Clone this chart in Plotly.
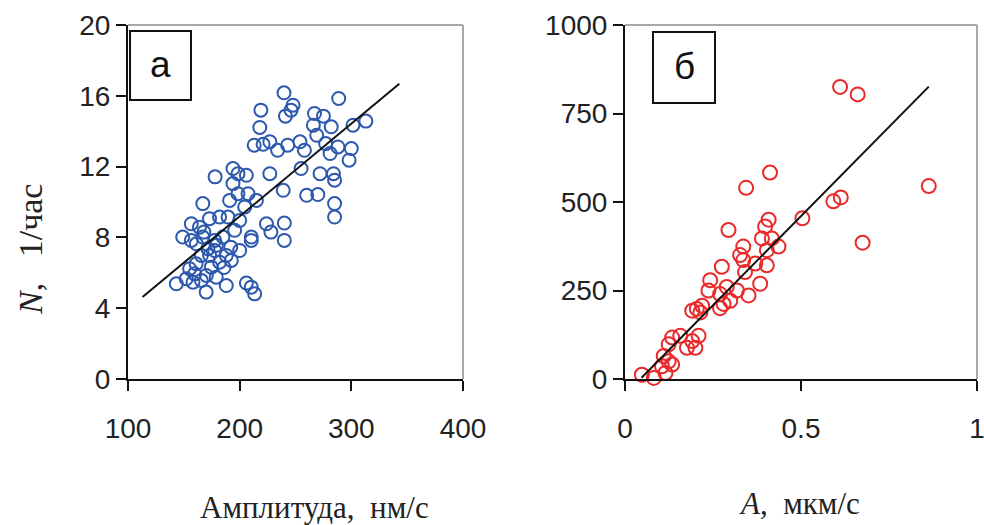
import plotly.graph_objects as go

# ---------------- data ----------------
# Panel "а": amplitude (нм/с) vs N (1/час)
amp_nm = [239.7, 247.8, 246, 241, 288.7, 219, 218, 267, 275, 266,
          269, 282, 301.5, 313, 213, 221, 227, 234, 243, 254,
          258, 277, 281, 288, 300, 298, 255, 272, 284, 285,
          227, 239, 260, 270, 285, 285, 224, 240, 240, 228,
          178, 194, 198.5, 206, 194, 198.5, 191, 207.5, 215, 204.5,
          167, 173, 182, 189.6, 200, 156.7, 164, 149, 156.7, 167,
          177.6, 185, 195.5, 210.4, 210.4, 200, 165.7, 177.6, 182, 188,
          192.5, 143.3, 152.2, 159.7, 165.7, 170, 179, 188, 206, 210.4,
          213.4, 174.6, 161, 155.2, 179.1, 173.1, 158.2, 170.1,
          161.2, 171.6, 186.0, 168.0, 192.0]
n_hour = [16.17, 15.47, 15.19, 14.85, 15.85, 15.19, 14.21, 15.0, 14.85, 14.34,
          13.77, 14.25, 14.34, 14.57, 13.21, 13.26, 13.4, 12.92, 13.21, 13.4,
          12.92, 13.3, 12.74, 13.11, 13.02, 12.36, 11.89, 11.6, 11.6, 11.23,
          11.6, 10.66, 10.38, 10.42, 9.91, 9.15, 8.77, 8.81, 7.83, 8.30,
          11.42, 11.89, 11.6, 11.51, 11.04, 10.47, 10.09, 10.47, 10.09, 9.72,
          9.91, 9.06, 9.15, 9.15, 8.96, 8.77, 8.58, 8.02, 7.83, 8.02,
          7.83, 8.02, 8.40, 8.02, 7.83, 7.26, 6.98, 7.26, 6.60, 6.98,
          6.70, 5.38, 5.66, 5.94, 5.57, 4.91, 5.75, 5.28, 5.42, 5.19,
          4.81, 6.32, 6.51, 6.23, 7.55, 6.98, 5.47, 5.85,
          7.64, 7.36, 6.30, 8.30, 7.45]
fit_a_x = [113, 343]
fit_a_slope, fit_a_icpt = 0.0524, -1.29

# Panel "б": A (мкм/с) vs N
amp_um = [0.611, 0.661, 0.412, 0.344, 0.863, 0.592, 0.613, 0.675, 0.504, 0.294,
          0.408, 0.398, 0.389, 0.417, 0.436, 0.403, 0.336, 0.327, 0.336, 0.370,
          0.403, 0.341, 0.275, 0.242, 0.237, 0.289, 0.270, 0.318, 0.384, 0.351,
          0.299, 0.280, 0.204, 0.191, 0.219, 0.134, 0.157, 0.124, 0.191, 0.209,
          0.176, 0.200, 0.110, 0.124, 0.105, 0.115, 0.134, 0.048, 0.039, 0.063,
          0.082, 0.110, 0.214, 0.270]
n_b = [825, 804, 583, 540, 545, 502, 513, 385, 454, 421,
       450, 431, 397, 397, 374, 364, 374, 350, 336, 326,
       321, 302, 317, 279, 250, 260, 240, 250, 269, 236,
       221, 212, 198, 193, 207, 117, 122, 98, 107, 122,
       88, 88, 65, 50, 36, 17, 41, 12, -2, -7,
       3, -2, 188, 200]
fit_b_x = [0.047, 0.863]
fit_b_slope, fit_b_icpt = 1008, -44

xa_ticks = [100, 200, 300, 400]
ya_ticks = [0, 4, 8, 12, 16, 20]
xb_ticks = [0, 0.5, 1]
xb_ticktext = ["0", "0.5", "1"]
yb_ticks = [0, 250, 500, 750, 1000]

BLUE = "#2c58ad"
RED = "#ea2a2a"
# the page's body margin is removed (post_script), so the figure fills the window
OFF = 0
W, H = 984, 525


def px(x):
    return (x - OFF) / W


def py(y):
    return 1 - (y - OFF) / H


fig = go.Figure()
fig.add_trace(go.Scatter(x=amp_nm, y=n_hour, mode="markers", xaxis="x", yaxis="y",
                         marker=dict(symbol="circle-open", size=13, color=BLUE,
                                     line=dict(width=2, color=BLUE)),
                         showlegend=False, cliponaxis=False))
fig.add_trace(go.Scatter(x=fit_a_x, y=[fit_a_icpt + fit_a_slope * v for v in fit_a_x],
                         mode="lines", xaxis="x", yaxis="y",
                         line=dict(color="#111", width=2), showlegend=False))
fig.add_trace(go.Scatter(x=amp_um, y=n_b, mode="markers", xaxis="x2", yaxis="y2",
                         marker=dict(symbol="circle-open", size=14, color=RED,
                                     line=dict(width=2, color=RED)),
                         showlegend=False, cliponaxis=False))
fig.add_trace(go.Scatter(x=fit_b_x, y=[fit_b_icpt + fit_b_slope * v for v in fit_b_x],
                         mode="lines", xaxis="x2", yaxis="y2",
                         line=dict(color="#111", width=2), showlegend=False))

tickfont = dict(family="Liberation Sans, Arial, sans-serif", size=28, color="#222")
common = dict(showline=True, linecolor="#111", linewidth=2, ticks="outside",
              ticklen=10, tickwidth=2, tickcolor="#111", showgrid=False,
              zeroline=False, tickfont=tickfont, automargin=False,
              ticklabeloverflow="allow")
inner = dict(ticks="inside", ticklen=4, tickwidth=2, tickcolor="#111",
             showticklabels=False, showline=False, showgrid=False,
             zeroline=False, automargin=False)

yd = [py(379), py(25)]
fig.update_layout(
    width=W, height=H, margin=dict(l=0, r=0, t=0, b=0),
    paper_bgcolor="white", plot_bgcolor="white",
    xaxis=dict(domain=[px(128), px(463)], range=[100, 400], tickvals=xa_ticks,
               anchor="y", ticklabelstandoff=13, **common),
    yaxis=dict(domain=yd, range=[0, 20], tickvals=ya_ticks, anchor="x",
               ticklabelstandoff=0, **common),
    xaxis2=dict(domain=[px(625), px(977)], range=[0, 1], tickvals=xb_ticks,
                ticktext=xb_ticktext, anchor="y2", ticklabelstandoff=13, **common),
    yaxis2=dict(domain=yd, range=[0, 1000], tickvals=yb_ticks, anchor="x2",
                ticklabelstandoff=0, **common),
    # short inner tick stubs so the ticks cross the axis lines
    xaxis3=dict(overlaying="x", anchor="y", range=[100, 400], tickvals=xa_ticks,
                side="bottom", **inner),
    yaxis3=dict(overlaying="y", anchor="x", range=[0, 20], tickvals=ya_ticks,
                side="left", **inner),
    xaxis4=dict(overlaying="x2", anchor="y2", range=[0, 1], tickvals=xb_ticks,
                side="bottom", **inner),
    yaxis4=dict(overlaying="y2", anchor="x2", range=[0, 1000], tickvals=yb_ticks,
                side="left", **inner),
)

shapes = []
for xr, yr in (("x domain", "y domain"), ("x2 domain", "y2 domain")):
    shapes.append(dict(type="line", xref=xr, yref=yr, x0=0, x1=1, y0=1, y1=1,
                       line=dict(color="#a8a8a8", width=2), layer="below"))
    shapes.append(dict(type="line", xref=xr, yref=yr, x0=1, x1=1, y0=0, y1=1,
                       line=dict(color="#a8a8a8", width=2), layer="below"))
# label boxes
shapes.append(dict(type="rect", xref="x domain", yref="y domain",
                   x0=0.006, x1=0.188, y0=0.788, y1=0.983,
                   line=dict(color="#111", width=2), fillcolor="white"))
shapes.append(dict(type="rect", xref="x2 domain", yref="y2 domain",
                   x0=0.0795, x1=0.2557, y0=0.780, y1=0.980,
                   line=dict(color="#111", width=2), fillcolor="white"))
fig.update_layout(shapes=shapes)

serif = "Liberation Serif"
ann = [
    dict(text="а", xref="x domain", yref="y domain", x=0.097, y=0.888,
         xanchor="center", yanchor="middle",
         showarrow=False, font=dict(family="Liberation Sans, Arial", size=37, color="#111")),
    dict(text="б", xref="x2 domain", yref="y2 domain", x=0.168, y=0.884,
         xanchor="center", yanchor="middle",
         showarrow=False, font=dict(family="Liberation Sans, Arial", size=37, color="#111")),
    dict(text="Амплитуда,\u00a0 нм/с", xref="paper", yref="paper", x=px(314), y=py(507),
         xanchor="center", yanchor="middle",
         showarrow=False, font=dict(family=serif, size=31, color="#222")),
    dict(text="<i>A</i>,\u00a0 мкм/с", xref="paper", yref="paper", x=px(799), y=py(503),
         xanchor="center", yanchor="middle",
         showarrow=False, font=dict(family=serif, size=31, color="#222")),
    dict(text="<i>N</i>,\u00a0\u00a0 1/час", xref="paper", yref="paper", x=px(30), y=py(250),
         xanchor="center", yanchor="middle",
         textangle=-90, showarrow=False, font=dict(family=serif, size=34, color="#222")),
]
fig.update_layout(annotations=ann)

fig.write_html(
    "out.html",
    config={"displayModeBar": False},
    post_script="document.body.style.margin='0';document.body.style.overflow='hidden';",
)
